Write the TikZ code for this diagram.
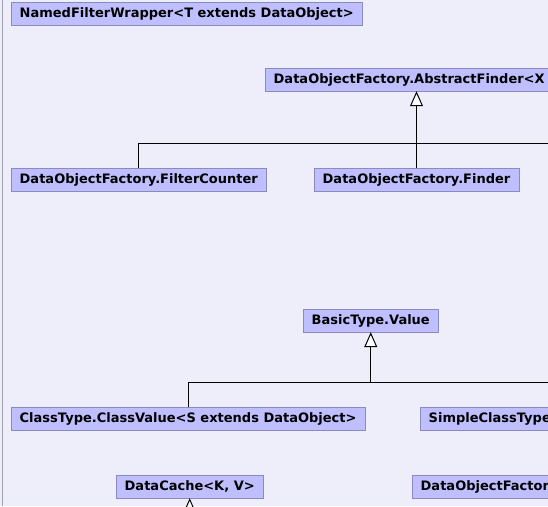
\documentclass[tikz,border=0pt]{standalone}
\usepackage{fontspec}
\setmainfont{DejaVu Sans}
\usepackage{xcolor}
\usepackage{tikz}
\usetikzlibrary{arrows.meta}

\definecolor{pagebg}{RGB}{238,238,250}
\definecolor{boxfill}{RGB}{191,191,255}
\definecolor{boxline}{RGB}{138,138,190}
\definecolor{edgeline}{RGB}{160,160,170}

\begin{document}
\begin{tikzpicture}[x=1pt,y=-1pt]
        % Define styles
        \tikzset{
            cls/.style={rectangle, draw=boxline, fill=boxfill, anchor=west, minimum height=23pt,
                inner xsep=8.5pt, inner ysep=0pt, font=\fontsize{13}{15}\selectfont\bfseries},
            cut/.style={cls, text width=400pt, align=left},
            inherit/.style={-{Triangle[open, length=15pt, width=13pt, fill=white]}, line width=1pt}
        }

        % Frame
        \clip (0,0) rectangle (548,506);
        \fill[pagebg] (0,0) rectangle (548,506);
        \draw[edgeline, line width=1pt] (2.5,0) -- (2.5,506);

        % Nodes
        \node[cls] (named_wrapper) at (11,13.5) {NamedFilterWrapper<T extends DataObject>};
        \node[cut] (abstract_finder) at (265,79.5) {DataObjectFactory.AbstractFinder<X};
        \node[cls] (filter_counter) at (11,179.5) {DataObjectFactory.FilterCounter};
        \node[cls] (finder) at (314,179.5) {DataObjectFactory.Finder};

        \node[cls] (basic_value) at (303,320.5) {BasicType.Value};
        \node[cls] (class_value) at (11,419) {ClassType.ClassValue<S extends DataObject>};
        \node[cut] (simple_class) at (420,419) {SimpleClassType};

        \node[cls] (data_cache) at (116,486.5) {DataCache<K, V>};
        \node[cut] (object_factor) at (412,486.5) {DataObjectFactor};

        % Joints
        \coordinate (bus_1) at (560,143);
        \coordinate (bus_2) at (560,382);
        \coordinate (join_2) at (basic_value.south |- bus_2);
        \coordinate (cache_child) at (data_cache.south |- 0,540);

        % Arrows
        \draw[inherit] (finder.north) -- (finder.north |- abstract_finder.south);
        \draw[line width=1pt] (filter_counter.north) |- (bus_1);
        \draw[line width=1pt] (class_value.north) |- (bus_2);
        \draw[inherit] (join_2) -- (basic_value.south);
        \draw[inherit] (cache_child) -- (data_cache.south);
\end{tikzpicture}
\end{document}
